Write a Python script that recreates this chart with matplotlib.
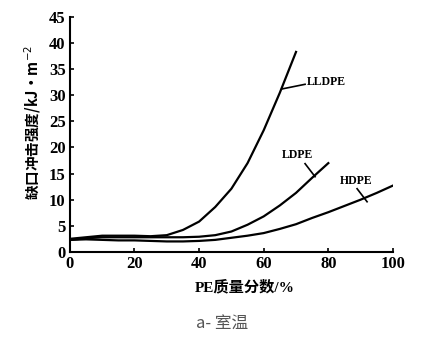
import matplotlib
matplotlib.use("Agg")
import matplotlib.pyplot as plt

plt.rcParams['font.family'] = ['Liberation Serif', 'Noto Sans CJK SC', 'DejaVu Sans']

# data
lldpe_x = [0, 5, 10, 15, 20, 25, 30, 35, 40, 45, 50, 55, 60, 65, 70]
lldpe_y = [2.5, 2.8, 3.1, 3.1, 3.1, 3.0, 3.2, 4.2, 5.8, 8.6, 12.1, 17.0, 23.3, 30.5, 38.3]

ldpe_x = [0, 5, 10, 15, 20, 25, 30, 35, 40, 45, 50, 55, 60, 65, 70, 75, 80]
ldpe_y = [2.3, 2.6, 2.8, 2.8, 2.8, 2.8, 2.8, 2.8, 2.9, 3.2, 3.9, 5.2, 6.8, 8.9, 11.3, 14.2, 17.0]

hdpe_x = [0, 5, 10, 15, 20, 25, 30, 35, 40, 45, 50, 55, 60, 65, 70, 75, 80, 85, 90, 95, 100]
hdpe_y = [2.3, 2.4, 2.3, 2.2, 2.2, 2.1, 2.0, 2.0, 2.1, 2.3, 2.7, 3.1, 3.6, 4.4, 5.3, 6.5, 7.6, 8.8, 10.0, 11.3, 12.7]

xticks = [0, 20, 40, 60, 80, 100]
yticks = [0, 5, 10, 15, 20, 25, 30, 35, 40, 45]

# label text, label position, leader line (curve end, label end)
labels = ['LLDPE', 'LDPE', 'HDPE']
label_pos = [(73.5, 32.6), (65.5, 18.6), (83.5, 13.6)]
leader_x = [(65.6, 72.8), (75.9, 72.8), (92.0, 88.9)]
leader_y = [(31.2, 32.1), (14.4, 16.9), (9.6, 12.1)]

fig = plt.figure(figsize=(4.45, 3.39), dpi=100)
ax = fig.add_axes([0.157, 0.257, 0.726, 0.693])

ax.plot(lldpe_x, lldpe_y, color='black', lw=1.6)
ax.plot(ldpe_x, ldpe_y, color='black', lw=1.6)
ax.plot(hdpe_x, hdpe_y, color='black', lw=1.6)

for txt, pos, lx, ly in zip(labels, label_pos, leader_x, leader_y):
    ax.plot(lx, ly, color='black', lw=1.2)
    ax.text(pos[0], pos[1], txt, fontsize=8.5, fontweight='bold',
            ha='left', va='center')

ax.set_xlim(0, 100)
ax.set_ylim(0, 45)
ax.set_xticks(xticks)
ax.set_yticks(yticks)
ax.tick_params(direction='in', length=3, width=1.2, labelsize=12, pad=3)
for lab in ax.get_xticklabels() + ax.get_yticklabels():
    lab.set_fontweight('bold')

ax.spines['top'].set_visible(False)
ax.spines['right'].set_visible(False)
ax.spines['left'].set_linewidth(1.5)
ax.spines['bottom'].set_linewidth(1.5)

ax.text(0.54, -0.15, 'PE质量分数/%', transform=ax.transAxes, ha='center', va='center',
        fontsize=11, fontweight='bold', family=['Liberation Serif', 'Noto Sans CJK SC'])
ax.text(-0.115, 0.55, '缺口冲击强度/kJ·m$^{-2}$', transform=ax.transAxes, ha='center', va='center',
        rotation=90, fontsize=10.5, fontweight='bold', family=['Noto Sans CJK SC', 'DejaVu Sans'])

fig.text(0.5, 0.047, 'a- 室温', ha='center', va='center', fontsize=12, color='#555555',
         family=['Noto Sans CJK SC', 'DejaVu Sans'])

fig.savefig('out.png', dpi=100)
